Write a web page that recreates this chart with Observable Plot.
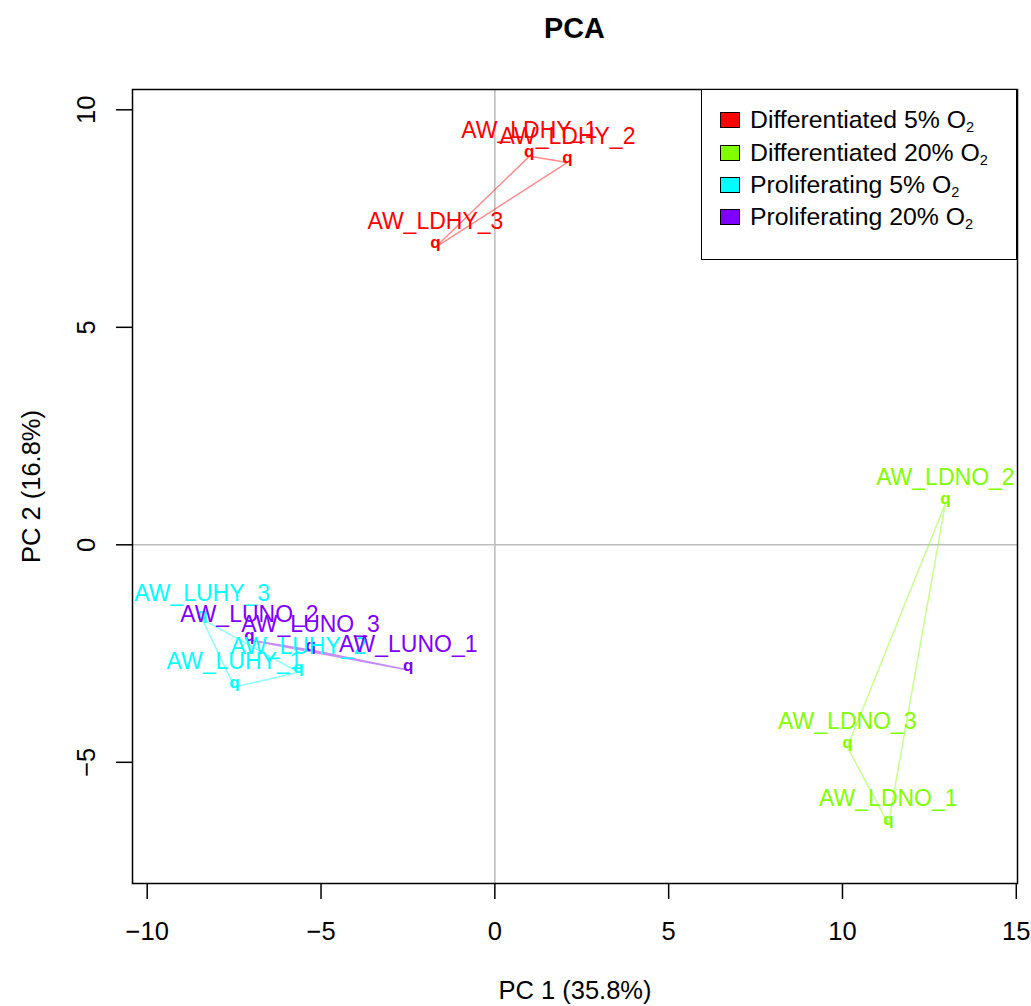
<!DOCTYPE html>
<html>
<head>
<meta charset="utf-8">
<script src="https://cdn.jsdelivr.net/npm/d3@7"></script>
<script src="https://cdn.jsdelivr.net/npm/@observablehq/plot@0.6"></script>
<style>
  body { margin: 0; background: #fff; }
  #wrap { position: relative; width: 1031px; height: 1006px; font-family: "Liberation Sans", Arial, Helvetica, sans-serif; }
  #title { position: absolute; left: 132px; width: 885px; top: 13px; line-height: 30px; text-align: center; font-weight: bold; font-size: 28.8px; color: #000; }
  #legend { position: absolute; left: 701px; top: 89px; width: 316px; height: 171px; box-sizing: border-box; border: 1.5px solid #000; background: #fff; }
  .lrow { position: absolute; left: 0; height: 32px; line-height: 32px; font-size: 24.8px; color: #000; white-space: nowrap; }
  .sw { position: absolute; left: 18px; top: 8px; width: 18px; height: 14px; border: 1px solid #000; }
  .lt { position: absolute; left: 48px; top: 0; }
  .lt sub { font-size: 14.5px; vertical-align: -4px; line-height: 0; }
</style>
</head>
<body>
<div id="wrap">
  <div id="title">PCA</div>
</div>
<script>
// ---- data ----
const samples = ["AW_LDHY_1","AW_LDHY_2","AW_LDHY_3","AW_LDNO_1","AW_LDNO_2","AW_LDNO_3","AW_LUHY_1","AW_LUHY_2","AW_LUHY_3","AW_LUNO_1","AW_LUNO_2","AW_LUNO_3"];
const groups  = ["LDHY","LDHY","LDHY","LDNO","LDNO","LDNO","LUHY","LUHY","LUHY","LUNO","LUNO","LUNO"];
const pc1 = [0.99, 2.09, -1.71, 11.32, 12.96, 10.14, -7.49, -5.65, -8.42, -2.49, -7.06, -5.30];
const pc2 = [8.93, 8.79, 6.84, -6.42, 0.95, -4.65, -3.27, -2.93, -1.71, -2.88, -2.19, -2.42];

const groupKeys   = ["LDHY","LDNO","LUHY","LUNO"];
const groupLabels = ["Differentiated 5% O", "Differentiated 20% O", "Proliferating 5% O", "Proliferating 20% O"];
const groupColors = ["#FF0000","#80FF00","#00FFFF","#8000FF"];

const xTicks = [-10, -5, 0, 5, 10, 15];
const yTicks = [-5, 0, 5, 10];
const xTitle = "PC 1 (35.8%)";
const yTitle = "PC 2 (16.8%)";

const rows = samples.map((s, i) => ({sample: s, group: groups[i], pc1: pc1[i], pc2: pc2[i]}));
const fmt = d => d < 0 ? "\u2212" + Math.abs(d) : String(d);

const chart = Plot.plot({
  width: 1031,
  height: 1006,
  marginLeft: 132,
  marginRight: 14,
  marginTop: 89,
  marginBottom: 123,
  style: {fontFamily: '"Liberation Sans", Arial, Helvetica, sans-serif', fontSize: "24px", background: "transparent", color: "#000"},
  x: {domain: [-10.423, 15.035]},
  y: {domain: [-7.786, 10.467]},
  color: {domain: groupKeys, range: groupColors},
  marks: [
    Plot.ruleX([0], {stroke: "#bebebe", strokeWidth: 1.6}),
    Plot.ruleY([0], {stroke: "#bebebe", strokeWidth: 1.6}),
    Plot.line(rows, {x: "pc1", y: "pc2", z: "group", stroke: "group", curve: "linear-closed", strokeOpacity: 0.45, strokeWidth: 1.5}),
    Plot.text(rows, {x: "pc1", y: "pc2", text: () => "q", fill: "group", fontWeight: "bold", fontSize: 17, lineAnchor: "bottom", dy: 1}),
    Plot.text(rows, {x: "pc1", y: "pc2", text: "sample", fill: "group", fontSize: 23, lineAnchor: "bottom", dy: -18}),
    Plot.axisX(xTicks, {tickSize: 16, fill: "none", stroke: "#000", strokeWidth: 1.5, label: null}),
    Plot.axisY(yTicks, {tickSize: 16, fill: "none", stroke: "#000", strokeWidth: 1.5, label: null}),
    Plot.text(xTicks, {x: d => d, frameAnchor: "bottom", dy: 48, lineAnchor: "middle", text: fmt, fontSize: 25.5, fill: "#000"}),
    Plot.text(yTicks, {y: d => d, frameAnchor: "left", dx: -46, rotate: -90, textAnchor: "middle", lineAnchor: "middle", text: fmt, fontSize: 25.5, fill: "#000"}),
    Plot.text([xTitle], {frameAnchor: "bottom", dy: 107, lineAnchor: "middle", text: d => d, fontSize: 25.5, fill: "#000"}),
    Plot.text([yTitle], {frameAnchor: "left", dx: -101, rotate: -90, textAnchor: "middle", lineAnchor: "middle", text: d => d, fontSize: 25.5, fill: "#000"}),
    Plot.frame({stroke: "#000", strokeWidth: 1.5})
  ]
});
chart.style.position = "absolute";
chart.style.left = "0";
chart.style.top = "0";
const wrap = document.getElementById("wrap");
wrap.insertBefore(chart, wrap.firstChild);

// legend
const legend = document.createElement("div");
legend.id = "legend";
const rowCenters = [30, 63, 95, 127];
groupKeys.forEach((k, i) => {
  const r = document.createElement("div");
  r.className = "lrow";
  r.style.top = (rowCenters[i] - 16) + "px";
  const sw = document.createElement("div");
  sw.className = "sw";
  sw.style.background = groupColors[i];
  const t = document.createElement("div");
  t.className = "lt";
  t.innerHTML = groupLabels[i] + "<sub>2</sub>";
  r.appendChild(sw); r.appendChild(t);
  legend.appendChild(r);
});
wrap.appendChild(legend);
</script>
</body>
</html>
